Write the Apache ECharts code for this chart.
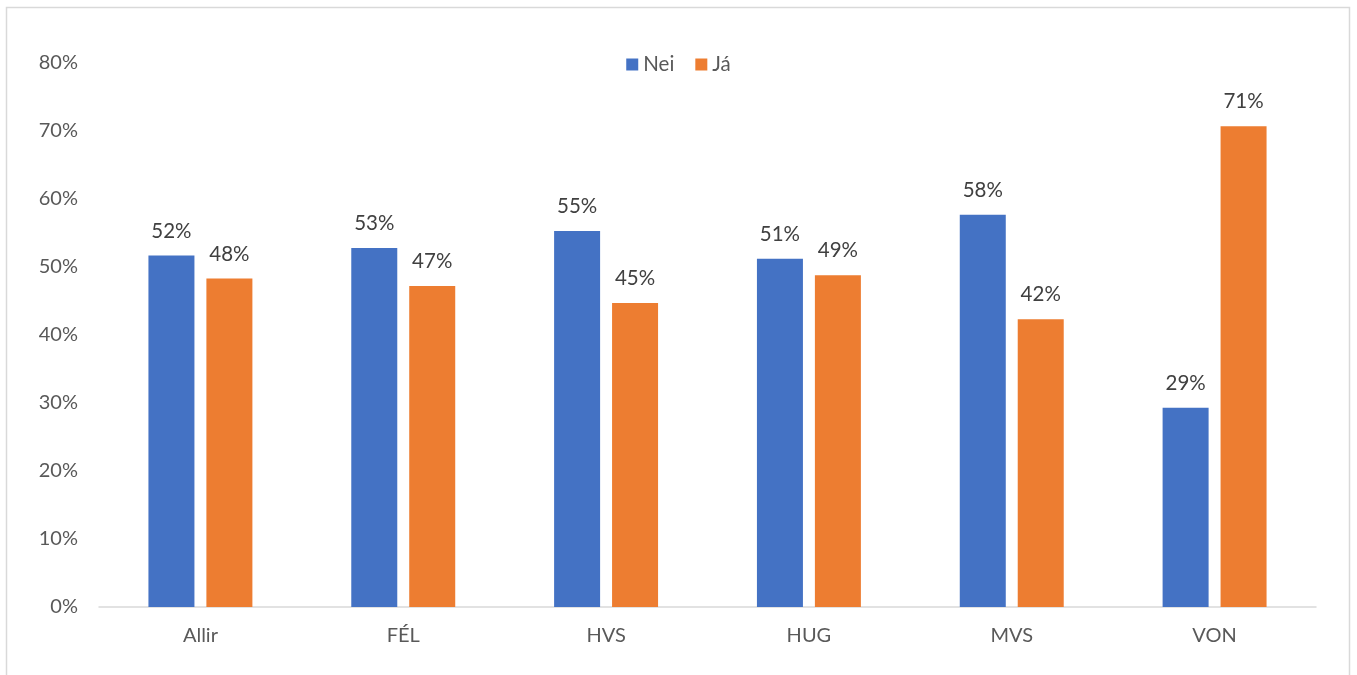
<!DOCTYPE html>
<html><head><meta charset="utf-8">
<script src="https://cdn.jsdelivr.net/npm/echarts@6/dist/echarts.min.js"></script>
<style>html,body{margin:0;padding:0;background:#fff}#c{width:1357px;height:675px}</style>
</head><body><div id="c"></div>
<script>
const categories = ['Allir', 'FÉL', 'HVS', 'HUG', 'MVS', 'VON'];
const neiValues = [51.7, 52.8, 55.3, 51.2, 57.7, 29.3];
const jaValues = [48.3, 47.2, 44.7, 48.8, 42.3, 70.7];
const seriesNames = ['Nei', 'Já'];
const yTicks = [0, 10, 20, 30, 40, 50, 60, 70, 80];

const chart = echarts.init(document.getElementById('c'), null, {renderer: 'canvas'});
const font = 'Lato';
const labelCfg = {show: true, position: 'top', distance: 14, color: '#404040', fontSize: 20.5, fontFamily: font,
  formatter: p => Math.round(p.value) + '%'};
chart.setOption({
  animation: false,
  textStyle: {fontFamily: font},
  graphic: [{type: 'rect', shape: {x: 6.5, y: 7.5, width: 1343, height: 720},
    style: {fill: 'none', stroke: '#d9d9d9', lineWidth: 1.5}, silent: true}],
  legend: {top: 49, left: 'center', itemWidth: 12, itemHeight: 12, itemGap: 21,
    icon: 'rect', textStyle: {color: '#595959', fontSize: 20.5, fontFamily: font}, data: seriesNames},
  grid: {left: 99, right: 41, top: 63, bottom: 68, containLabel: false},
  xAxis: {type: 'category', data: categories,
    axisLine: {lineStyle: {color: '#d9d9d9', width: 1.5}}, axisTick: {show: false},
    axisLabel: {color: '#595959', fontSize: 20, fontFamily: font, margin: 19}},
  yAxis: {type: 'value', min: yTicks[0], max: yTicks[yTicks.length - 1], interval: 10,
    axisLine: {show: false}, axisTick: {show: false}, splitLine: {show: false},
    axisLabel: {color: '#595959', fontSize: 20, fontFamily: font, margin: 21, formatter: v => v + '%'}},
  series: [
    {name: seriesNames[0], type: 'bar', data: neiValues, barWidth: 46, barGap: '26%',
      itemStyle: {color: '#4472c4'}, label: labelCfg},
    {name: seriesNames[1], type: 'bar', data: jaValues, barWidth: 46, barGap: '26%',
      itemStyle: {color: '#ed7d31'}, label: labelCfg}
  ]
});
</script></body></html>
